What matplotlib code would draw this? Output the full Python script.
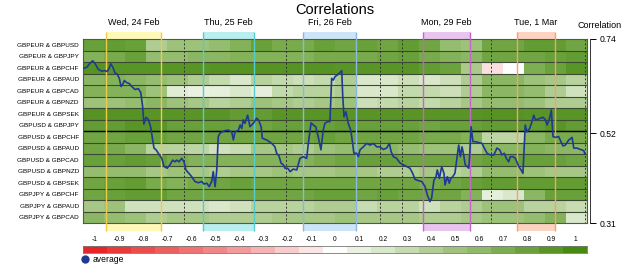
import numpy as np
import matplotlib
matplotlib.use("Agg")
import matplotlib.pyplot as plt
from matplotlib.colors import LinearSegmentedColormap, Normalize
from matplotlib.lines import Line2D
from matplotlib.patches import Rectangle

plt.rcParams['font.family'] = ['Liberation Sans', 'DejaVu Sans']

#### data

## pairs, top to bottom
pairs = ["GBPEUR & GBPUSD", "GBPEUR & GBPJPY", "GBPEUR & GBPCHF", "GBPEUR & GBPAUD",
         "GBPEUR & GBPCAD", "GBPEUR & GBPNZD", "GBPEUR & GBPSEK", "GBPUSD & GBPJPY",
         "GBPUSD & GBPCHF", "GBPUSD & GBPAUD", "GBPUSD & GBPCAD", "GBPUSD & GBPNZD",
         "GBPUSD & GBPSEK", "GBPJPY & GBPCHF", "GBPJPY & GBPAUD", "GBPJPY & GBPCAD"]

## correlation per pair, 24 time blocks (10 units each)
eur_usd = [0.82, 0.85, 0.82, 0.42, 0.52, 0.52, 0.57, 0.67, 0.82, 0.72, 0.72, 0.82, 0.77, 0.82, 0.77, 0.85, 0.77, 0.57, 0.52, 0.77, 0.77, 0.85, 0.85, 0.77]
eur_jpy = [0.67, 0.72, 0.82, 0.57, 0.57, 0.62, 0.62, 0.67, 0.67, 0.67, 0.67, 0.72, 0.72, 0.72, 0.77, 0.82, 0.72, 0.67, 0.62, 0.77, 0.77, 0.77, 0.82, 0.85]
eur_chf = [0.92, 0.9, 0.9, 0.9, 0.9, 0.9, 0.92, 0.92, 0.92, 0.92, 0.92, 0.92, 0.9, 0.9, 0.9, 0.9, 0.85, 0.8, 0.45, -0.12, 0.0, 0.7, 0.8, 0.9]
eur_aud = [0.62, 0.67, 0.62, 0.57, 0.52, 0.42, 0.32, 0.2, 0.37, 0.32, 0.27, 0.32, 0.42, 0.2, 0.2, 0.27, 0.2, 0.27, 0.42, 0.62, 0.62, 0.52, 0.47, 0.37]
eur_cad = [0.67, 0.67, 0.67, 0.52, 0.15, 0.1, 0.12, 0.2, 0.12, 0.32, 0.37, 0.37, 0.42, 0.2, 0.2, 0.32, 0.32, 0.27, 0.42, 0.62, 0.62, 0.57, 0.42, 0.25]
eur_nzd = [0.52, 0.52, 0.57, 0.62, 0.52, 0.47, 0.37, 0.42, 0.52, 0.47, 0.42, 0.47, 0.52, 0.27, 0.32, 0.37, 0.32, 0.37, 0.47, 0.57, 0.57, 0.52, 0.42, 0.42]
eur_sek = [0.92, 0.92, 0.92, 0.9, 0.9, 0.9, 0.9, 0.85, 0.85, 0.9, 0.9, 0.9, 0.9, 0.9, 0.9, 0.9, 0.9, 0.9, 0.9, 0.92, 0.92, 0.9, 0.9, 0.9]
usd_jpy = [0.85, 0.85, 0.9, 0.9, 0.82, 0.82, 0.82, 0.77, 0.77, 0.82, 0.82, 0.82, 0.85, 0.82, 0.82, 0.82, 0.77, 0.82, 0.82, 0.85, 0.85, 0.85, 0.9, 0.85]
usd_chf = [0.77, 0.77, 0.82, 0.82, 0.77, 0.77, 0.77, 0.77, 0.77, 0.77, 0.77, 0.82, 0.77, 0.77, 0.77, 0.77, 0.72, 0.72, 0.67, 0.35, 0.35, 0.62, 0.72, 0.72]
usd_aud = [0.77, 0.72, 0.62, 0.37, 0.37, 0.35, 0.25, 0.3, 0.47, 0.47, 0.42, 0.52, 0.57, 0.62, 0.62, 0.57, 0.52, 0.52, 0.42, 0.62, 0.62, 0.67, 0.62, 0.62]
usd_cad = [0.82, 0.82, 0.85, 0.82, 0.72, 0.67, 0.67, 0.67, 0.67, 0.67, 0.67, 0.72, 0.77, 0.82, 0.82, 0.77, 0.77, 0.77, 0.77, 0.82, 0.82, 0.82, 0.82, 0.77]
usd_nzd = [0.57, 0.57, 0.57, 0.47, 0.52, 0.47, 0.42, 0.47, 0.47, 0.52, 0.47, 0.47, 0.52, 0.47, 0.42, 0.42, 0.47, 0.37, 0.42, 0.57, 0.57, 0.52, 0.47, 0.47]
usd_sek = [0.77, 0.82, 0.85, 0.72, 0.67, 0.72, 0.77, 0.82, 0.77, 0.77, 0.77, 0.77, 0.77, 0.77, 0.77, 0.77, 0.72, 0.77, 0.82, 0.85, 0.85, 0.85, 0.85, 0.85]
jpy_chf = [0.77, 0.82, 0.85, 0.85, 0.77, 0.77, 0.77, 0.77, 0.77, 0.77, 0.77, 0.82, 0.82, 0.77, 0.82, 0.77, 0.77, 0.77, 0.67, 0.12, 0.2, 0.62, 0.82, 0.82]
jpy_aud = [0.47, 0.52, 0.25, 0.25, 0.25, 0.25, 0.2, 0.25, 0.37, 0.37, 0.37, 0.42, 0.42, 0.3, 0.37, 0.37, 0.25, 0.37, 0.42, 0.52, 0.52, 0.37, 0.37, 0.3]
jpy_cad = [0.62, 0.57, 0.52, 0.42, 0.47, 0.47, 0.42, 0.42, 0.42, 0.47, 0.47, 0.47, 0.52, 0.47, 0.47, 0.47, 0.42, 0.42, 0.47, 0.52, 0.52, 0.57, 0.67, 0.2]

## average correlation (right axis)
avg_t = [0, 1.8, 3.3, 4.6, 5.7, 7.3, 8.9, 10.5, 11.6, 12.5,
         13.2, 14.1, 15.2, 16.3, 17.3, 18.1, 18.9, 19.7, 20.8, 22.0,
         23.2, 24.8, 26.3, 27.5, 28.4, 29.0, 30.0, 31.1, 32.2, 33.2,
         33.8, 34.8, 35.9, 37.5, 38.6, 40.1, 41.4, 42.7, 43.8, 44.6,
         45.7, 47.0, 48.1, 49.0, 50.1, 51.8, 53.3, 54.9, 56.5, 57.6,
         58.9, 60.1, 61.3, 62.0, 62.9, 63.7, 64.4, 65.2, 67.6, 69.2,
         70.8, 71.6, 72.4, 74.0, 74.8, 75.6, 76.3, 77.1, 78.4, 79.5,
         81.1, 82.7, 83.8, 84.8, 85.4, 87.5, 89.9, 91.4, 92.2, 93.3,
         94.3, 95.4, 96.2, 97.5, 98.6, 100.1, 101.8, 103.3, 104.9, 106.5,
         107.3, 108.6, 109.7, 110.8, 112.0, 113.3, 114.4, 115.2, 116.5, 117.6,
         118.4, 119.2, 120.0, 121.1, 122.0, 123.2, 123.7, 124.3, 125.2, 126.3,
         127.5, 128.4, 129.0, 130.3, 131.1, 131.9, 133.5, 135.1, 136.7, 138.2,
         139.9, 141.4, 143.0, 144.6, 145.9, 146.7, 147.8, 149.4, 151.0, 152.5,
         154.1, 155.7, 157.0, 158.1, 159.7, 161.3, 162.9, 164.0, 165.2, 166.0,
         167.1, 168.1, 168.7, 169.7, 170.8, 171.9, 172.4, 173.5, 174.4, 175.1,
         176.0, 177.1, 178.9, 179.7, 180.5, 181.3, 182.0, 182.9, 183.7, 184.1,
         184.8, 185.7, 186.8, 188.4, 190.0, 190.8, 192.4, 194.0, 195.6, 196.4,
         197.1, 198.4, 199.5, 200.6, 201.6, 202.7, 203.5, 204.8, 205.9, 207.5,
         208.6, 209.5, 210.6, 211.4, 212.7, 213.8, 214.6, 215.4, 216.5, 217.8,
         219.0, 220.1, 221.0, 222.2, 223.0, 223.8, 224.9, 226.5, 227.6, 228.6,
         229.7, 231.3, 232.9, 233.7, 235.2, 236.9, 238.5, 239.0]
avg_v = [0.671, 0.674, 0.683, 0.689, 0.683, 0.669, 0.665, 0.666, 0.664, 0.672,
         0.682, 0.675, 0.661, 0.658, 0.648, 0.629, 0.634, 0.643, 0.638, 0.636,
         0.629, 0.622, 0.624, 0.615, 0.582, 0.541, 0.557, 0.552, 0.535, 0.504,
         0.485, 0.481, 0.473, 0.461, 0.442, 0.438, 0.446, 0.457, 0.453, 0.457,
         0.453, 0.461, 0.453, 0.434, 0.428, 0.418, 0.407, 0.404, 0.407, 0.401,
         0.403, 0.395, 0.407, 0.430, 0.395, 0.434, 0.512, 0.520, 0.526, 0.527,
         0.523, 0.504, 0.523, 0.527, 0.539, 0.531, 0.551, 0.543, 0.562, 0.535,
         0.543, 0.555, 0.549, 0.535, 0.508, 0.504, 0.496, 0.488, 0.473, 0.467,
         0.450, 0.446, 0.438, 0.438, 0.430, 0.436, 0.434, 0.461, 0.465, 0.461,
         0.496, 0.544, 0.539, 0.535, 0.512, 0.481, 0.527, 0.543, 0.547, 0.547,
         0.648, 0.644, 0.652, 0.656, 0.660, 0.666, 0.605, 0.558, 0.570, 0.543,
         0.527, 0.496, 0.473, 0.473, 0.465, 0.481, 0.488, 0.496, 0.492, 0.496,
         0.488, 0.488, 0.482, 0.485, 0.496, 0.477, 0.465, 0.461, 0.450, 0.446,
         0.442, 0.438, 0.426, 0.412, 0.409, 0.407, 0.395, 0.375, 0.360, 0.368,
         0.410, 0.418, 0.434, 0.414, 0.442, 0.426, 0.399, 0.418, 0.403, 0.414,
         0.418, 0.426, 0.492, 0.465, 0.488, 0.469, 0.446, 0.442, 0.438, 0.465,
         0.535, 0.500, 0.500, 0.498, 0.496, 0.488, 0.473, 0.469, 0.469, 0.477,
         0.485, 0.481, 0.469, 0.473, 0.461, 0.453, 0.465, 0.465, 0.461, 0.442,
         0.434, 0.426, 0.539, 0.523, 0.531, 0.547, 0.562, 0.552, 0.552, 0.555,
         0.557, 0.552, 0.539, 0.555, 0.574, 0.512, 0.510, 0.512, 0.500, 0.490,
         0.492, 0.504, 0.510, 0.485, 0.485, 0.482, 0.479, 0.471]

## highlighted days
day_labels = ["Wed, 24 Feb", "Thu, 25 Feb", "Fri, 26 Feb", "Mon, 29 Feb", "Tue, 1 Mar"]
day_start = [11.0, 57.1, 104.8, 161.9, 206.7]
day_end = [37.1, 81.4, 130.0, 184.3, 224.8]
day_fill = ['#fff9b8', '#b8eeee', '#cce4f8', '#e8c4ee', '#fcd2c0']
day_edge = ['#f2c94c', '#56cccc', '#8ab8e0', '#c466c8', '#f4a070']

## session separators
session_marks = [48.1, 96.7, 141.4, 151.9, 194.3, 239.0]

## colour scale
scale_vals = [-1, -0.9, -0.8, -0.7, -0.6, -0.5, -0.4, -0.3, -0.2, -0.1, 0,
              0.1, 0.2, 0.3, 0.4, 0.5, 0.6, 0.7, 0.8, 0.9, 1]
scale_cols = ['#e8262a', '#ea3c3c', '#ec4e4e', '#ee6060', '#f07272', '#f28686',
              '#f49c9c', '#f6b4b4', '#f8cccc', '#fae4e4', '#ffffff', '#e9f1e1',
              '#d9e7cb', '#c7dcb1', '#b3cf97', '#a1c47f', '#8fba69', '#7eae52',
              '#6ca23d', '#5a9627', '#468a0e']

right_ticks = [0.31, 0.52, 0.74]

#### plot

grid = np.array([eur_usd, eur_jpy, eur_chf, eur_aud, eur_cad, eur_nzd, eur_sek, usd_jpy,
                 usd_chf, usd_aud, usd_cad, usd_nzd, usd_sek, jpy_chf, jpy_aud, jpy_cad])
n_rows, n_cols = grid.shape
t_end = n_cols * 10

cmap = LinearSegmentedColormap.from_list('corr', list(zip(np.linspace(0, 1, len(scale_cols)), scale_cols)))
norm = Normalize(-1, 1)

W, H = 625, 267
fig = plt.figure(figsize=(W / 100, H / 100), dpi=100)
ax = fig.add_axes([83 / W, 1 - 223 / H, 504 / W, 184 / H])

ax.pcolormesh(np.arange(0, t_end + 1, 10), np.arange(n_rows + 1), grid,
              cmap=cmap, norm=norm, shading='flat', zorder=1)
ax.set_xlim(0, t_end)
ax.set_ylim(n_rows, 0)

## day boxes (fill only shows outside the heatmap)
for s, e, fc, ec, lab in zip(day_start, day_end, day_fill, day_edge, day_labels):
    ax.add_patch(Rectangle((s, -0.62), e - s, n_rows + 1.32, facecolor=fc, edgecolor='none',
                           clip_on=False, zorder=0.5))
    ax.vlines([s, e], -0.62, n_rows + 0.7, colors=ec, lw=1, clip_on=False, zorder=3)
    ax.text((s + e) / 2, -1.45, lab, ha='center', va='center', fontsize=6.5, clip_on=False)

## row separators
ax.hlines(np.arange(1, n_rows), 0, t_end, colors='#3d4a32', lw=0.8, zorder=2)
ax.hlines([n_rows / 2], 0, t_end, colors='black', lw=1, zorder=2)

## session lines
ax.vlines(session_marks, 0, n_rows, colors='#333333', lw=0.7, linestyles=(0, (2, 2)), zorder=2.5)

ax.set_xticks([])
ax.set_yticks(np.arange(n_rows) + 0.5)
ax.set_yticklabels(pairs)
ax.tick_params(axis='y', length=0, pad=3, labelsize=4.6)
for sp in ax.spines.values():
    sp.set_color('#555555')
    sp.set_linewidth(0.8)

## average line on the right axis
ax2 = ax.twinx()
ax2.plot(avg_t, avg_v, color='#1f3a93', lw=1.2, zorder=4)
ax2.set_ylim(0.31, 0.74)
ax2.set_yticks(right_ticks)
ax2.set_yticklabels(['%.2f' % v for v in right_ticks])
ax2.tick_params(axis='y', length=4, width=0.7, pad=3, labelsize=6.2)
ax2.spines['right'].set_position(('outward', 2))
for k in ['left', 'top', 'bottom']:
    ax2.spines[k].set_visible(False)
ax2.spines['right'].set_linewidth(0.7)
ax2.spines['right'].set_color('#333333')

## titles
fig.text(335 / W, 1 - 10 / H, 'Correlations', ha='center', va='center', fontsize=10.5)
fig.text(577 / W, 1 - 25 / H, 'Correlation', ha='left', va='center', fontsize=6.5)

## colour scale bar
cax = fig.add_axes([83 / W, 1 - 253 / H, 504 / W, 7 / H])
cax.imshow(np.array([scale_vals]), cmap=cmap, norm=norm, aspect='auto',
           extent=(-1.05, 1.05, 0, 1), interpolation='nearest')
cax.set_xticks(scale_vals)
cax.set_xticklabels(['%g' % v for v in scale_vals])
cax.xaxis.tick_top()
cax.tick_params(axis='x', length=0, pad=2, labelsize=4.8)
cax.set_yticks([])
for sp in cax.spines.values():
    sp.set_color('#777777')
    sp.set_linewidth(0.6)

## legend
handle = Line2D([], [], marker='o', ls='none', markerfacecolor='#1f3a93',
                markeredgecolor='#1f3a93', markersize=5)
fig.legend([handle], ['average'], loc='center left', bbox_to_anchor=(82 / W, 1 - 259.5 / H),
           frameon=False, handlelength=0.8, handletextpad=0.4, borderpad=0,
           borderaxespad=0, fontsize=6.2)

fig.savefig('out.png', dpi=100)
